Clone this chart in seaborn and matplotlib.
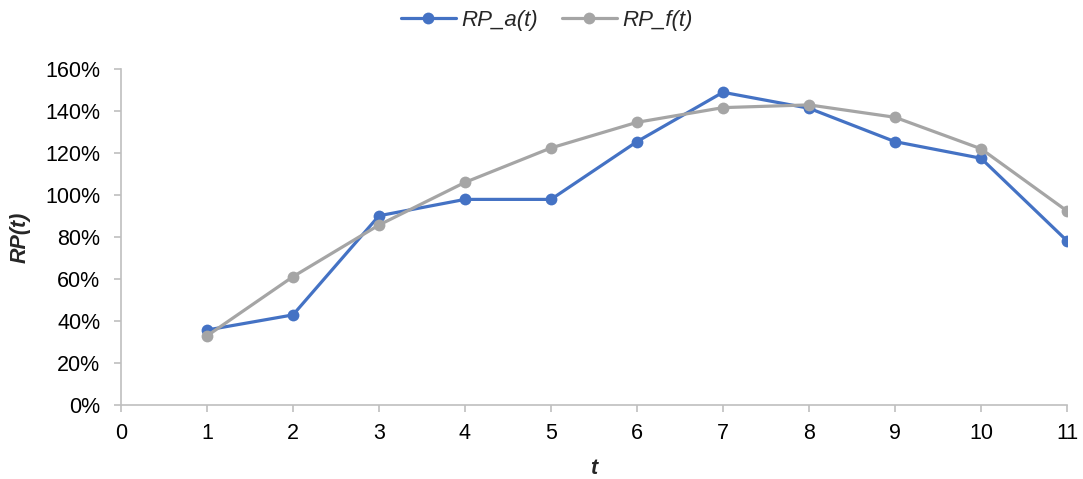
import pandas as pd
import matplotlib.pyplot as plt
import matplotlib.ticker as mtick
import seaborn as sns

t = [1, 2, 3, 4, 5, 6, 7, 8, 9, 10, 11]
rp_a = [0.357, 0.429, 0.901, 0.979, 0.979, 1.254, 1.489, 1.413, 1.254, 1.175, 0.782]
rp_f = [0.329, 0.611, 0.857, 1.060, 1.224, 1.346, 1.416, 1.429, 1.370, 1.220, 0.924]
series = ['RP_a(t)', 'RP_f(t)']

df = pd.DataFrame({
    't': t * 2,
    'RP': rp_a + rp_f,
    'series': [series[0]] * len(t) + [series[1]] * len(t),
})

sns.set_style('white')
plt.rcParams['font.family'] = ['Liberation Sans', 'DejaVu Sans']

fig = plt.figure(figsize=(10.83, 4.79), dpi=100)
ax = fig.add_axes([0.1117, 0.1545, 0.8735, 0.7015])

sns.lineplot(data=df, x='t', y='RP', hue='series', hue_order=series,
             palette={'RP_a(t)': '#4472C4', 'RP_f(t)': '#A5A5A5'},
             marker='o', markersize=8.5, markeredgewidth=0, linewidth=2.3, ax=ax)

ax.set_xlim(0, 11)
ax.set_ylim(0, 1.6)
ax.set_xticks(range(0, 12))
ax.set_yticks([i * 0.2 for i in range(9)])
ax.yaxis.set_major_formatter(mtick.PercentFormatter(1.0, decimals=0))
ax.tick_params(axis='both', labelsize=15.5, labelcolor='black', color='#BFBFBF',
               length=5, width=1.2, direction='out', bottom=True, left=True)
ax.tick_params(axis='y', pad=10)
ax.tick_params(axis='x', pad=8)
for s in ['top', 'right']:
    ax.spines[s].set_visible(False)
for s in ['left', 'bottom']:
    ax.spines[s].set_color('#BFBFBF')
    ax.spines[s].set_linewidth(1.2)

ax.set_xlabel('t', fontsize=15.5, fontweight='bold', fontstyle='italic', labelpad=10)
ax.set_ylabel('RP(t)', fontsize=15.5, fontweight='bold', fontstyle='italic', labelpad=10)

handles, labels = ax.get_legend_handles_labels()
ax.get_legend().remove()
leg = fig.legend(handles, labels, loc='center', bbox_to_anchor=(0.505, 0.958), ncol=2,
                 frameon=False, fontsize=16, handlelength=2.45, columnspacing=1.1,
                 handletextpad=0.25)
for txt in leg.get_texts():
    txt.set_fontstyle('italic')

fig.savefig('out.png', dpi=100)
